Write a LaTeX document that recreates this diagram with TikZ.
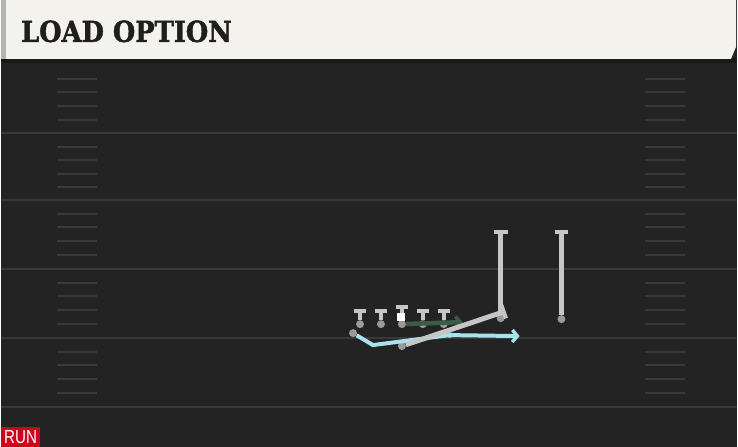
\documentclass[tikz,border=0pt]{standalone}
\usepackage{fontspec}
\setmainfont{DejaVu Serif}
\newfontfamily\titlefont{DejaVu Serif}[UprightFont=* Bold,FakeBold=1.6]
\newfontfamily\tagfont{Liberation Sans}
\usetikzlibrary{arrows.meta}

\definecolor{turf}{HTML}{232323}
\definecolor{turfline}{HTML}{393939}
\definecolor{paper}{HTML}{F4F2EC}
\definecolor{paperedge}{HTML}{B4B4B0}
\definecolor{ink}{HTML}{1E1E1E}
\definecolor{dotgray}{HTML}{9A9A9A}
\definecolor{routegray}{HTML}{C6C6C6}
\definecolor{runblue}{HTML}{A8E2EE}
\definecolor{pullgreen}{HTML}{3C5C47}
\definecolor{runred}{HTML}{D0021B}

\begin{document}
\begin{tikzpicture}[x=1pt,y=-1pt]
	\tikzstyle{player}=[circle,fill=dotgray,inner sep=0pt,minimum size=8pt]
	\tikzstyle{ball}=[fill=white,inner sep=0pt,minimum size=8pt]
	\tikzstyle{route}=[draw=routegray,line width=4.5pt]
	\tikzstyle{block}=[route,-{Bar[width=14pt,line width=4pt]}]
	\tikzstyle{small block}=[route,line width=4pt,-{Bar[width=12pt,line width=4pt]}]
	\tikzstyle{run}=[draw=runblue,line width=4pt,-{Straight Barb[length=5pt,width=12pt,line width=3.5pt]}]
	\tikzstyle{pull}=[draw=pullgreen,line width=4.5pt,-{Straight Barb[length=5pt,width=12pt,line width=3.5pt]}]
	\tikzstyle{yardline}=[turfline,line width=2pt]
	\tikzstyle{hash}=[turfline,line width=2pt]

	% field
	\fill[turf] (0,0) rectangle (738,448);
	\foreach \y in {133,201,270,339,408}
		\draw[yardline] (0,\y) -- (738,\y);
	\foreach \s in {65,133,201,270,339}
		\foreach \d in {14,27,41,55} {
			\draw[hash] (56,\s+\d) -- (96,\s+\d);
			\draw[hash] (646,\s+\d) -- (686,\s+\d);
		}

	% header
	\fill[black!90] (0,58) rectangle (738,63);
	\fill[paper] (0,0) -- (737,0) -- (737,47) -- (732,59) -- (0,59) -- cycle;
	\fill[paperedge] (0,0) rectangle (5,59);
	\node[anchor=base west,inner sep=0pt,text=ink,font=\titlefont\fontsize{29}{29}\selectfont,xscale=0.89] (title) at (20,42) {LOAD OPTION};

	% run tag
	\node[anchor=south west,fill=runred,inner sep=0pt,minimum height=20pt,minimum width=39pt] (tag) at (0,448) {};
	\node[text=white,font=\tagfont\fontsize{19}{19}\selectfont,xscale=0.8,inner sep=0pt] (tagtext) at (tag) {RUN};

	% players
	\node[player] (lt) at (360,325) {};
	\node[player] (lg) at (381,325) {};
	\node[player] (c)  at (402,325) {};
	\node[player] (rg) at (423,325) {};
	\node[player] (rt) at (444,325) {};
	\node[player] (qb) at (402,347) {};
	\node[player] (rb) at (353,334) {};
	\node[player] (te) at (501,319) {};
	\node[player] (wr) at (562,320) {};
	\node[player,minimum size=6pt] (pitch) at (450,336) {};

	\coordinate (ltb) at (360,310);
	\coordinate (lgb) at (381,310);
	\coordinate (cb)  at (402,306);
	\coordinate (rgb) at (423,310);
	\coordinate (rtb) at (444,310);
	\coordinate (teb) at (501,231);
	\coordinate (wrb) at (562,231);
	\coordinate (qbb) at (506,312);
	\coordinate (cend) at (463,323);
	\coordinate (rbcut) at (373,346);
	\coordinate (rbend) at (520,337);

	% routes
	\draw[small block] (lt) -- (ltb);
	\draw[small block] (lg) -- (lgb);
	\draw[small block] (c) -- (cb);
	\draw[small block] (rg) -- (rgb);
	\draw[small block] (rt) -- (rtb);
	\draw[block] (te) -- (teb);
	\draw[block] (wr) -- (wrb);
	\draw[pull] (c) -- (cend);
	\draw[run] (rb) -- (rbcut) -- (pitch.center) -- (rbend);
	\draw[block,line width=5pt] (qb) -- (qbb);
	\node[ball] (fb) at (401,318) {};
\end{tikzpicture}
\end{document}
